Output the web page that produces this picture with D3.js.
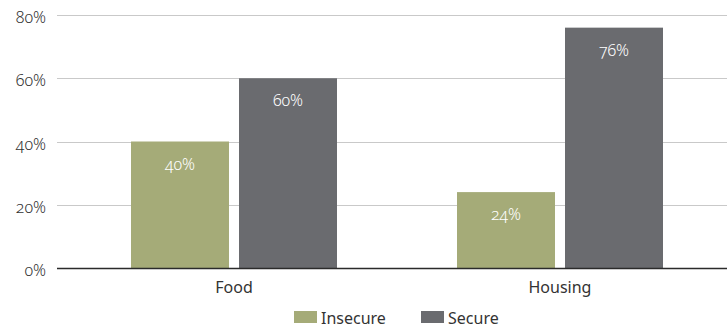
<!DOCTYPE html>
<html>
<head>
<meta charset="utf-8">
<script src="https://cdn.jsdelivr.net/npm/d3@7"></script>
<style>
  html, body { margin: 0; padding: 0; background: #fff; }
  svg text { font-family: "Noto Sans", "Open Sans", sans-serif; font-feature-settings: "onum" 1; font-variant-numeric: oldstyle-nums; }
</style>
</head>
<body>
<svg id="chart" width="727" height="329"></svg>
<script>
const categories = ["Food", "Housing"];
const series = ["Insecure", "Secure"];
const insecure = [0.40, 0.24];
const secure = [0.60, 0.76];
const yTicks = [0, 0.2, 0.4, 0.6, 0.8];
const colors = ["#a5ab78", "#6a6b6f"];

const values = [insecure, secure];
const svg = d3.select("#chart");

const y = d3.scaleLinear().domain([0, 0.8]).range([268, 15]);
const x0 = d3.scaleBand().domain(categories).range([71, 723]);
const x1 = d3.scaleBand().domain(series).range([60, 266]).paddingInner(10 / 108);
const fmt = d3.format(".0%");

// horizontal gridlines
svg.append("g").selectAll("line")
  .data(yTicks.filter(d => d > 0))
  .join("line")
  .attr("x1", 57).attr("x2", 727)
  .attr("y1", d => Math.round(y(d)) + 0.5).attr("y2", d => Math.round(y(d)) + 0.5)
  .attr("stroke", "#c9c9c9").attr("stroke-width", 1.2);

// y-axis labels
svg.append("g").selectAll("text")
  .data(yTicks)
  .join("text")
  .attr("x", 46).attr("y", d => y(d) + 8)
  .attr("text-anchor", "end")
  .attr("font-size", 16)
  .attr("font-weight", 300)
  .attr("fill", "#333")
  .text(fmt);

// bars
const groups = svg.append("g").selectAll("g")
  .data(categories)
  .join("g")
  .attr("transform", c => `translate(${x0(c)},0)`);

groups.selectAll("rect")
  .data((c, i) => series.map((s, j) => ({ s, j, v: values[j][i] })))
  .join("rect")
  .attr("x", d => x1(d.s))
  .attr("width", x1.bandwidth())
  .attr("y", d => y(d.v))
  .attr("height", d => y(0) - y(d.v))
  .attr("fill", d => colors[d.j]);

groups.selectAll("text.val")
  .data((c, i) => series.map((s, j) => ({ s, j, v: values[j][i] })))
  .join("text")
  .attr("class", "val")
  .attr("x", d => x1(d.s) + x1.bandwidth() / 2)
  .attr("y", d => y(d.v) + 28)
  .attr("text-anchor", "middle")
  .attr("font-size", 16)
  .attr("font-weight", 300)
  .attr("fill", "#ffffff")
  .text(d => fmt(d.v));

// baseline
svg.append("line")
  .attr("x1", 57).attr("x2", 727)
  .attr("y1", y(0) + 0.5).attr("y2", y(0) + 0.5)
  .attr("stroke", "#2b2b2b").attr("stroke-width", 1.3);

// category labels
svg.append("g").selectAll("text")
  .data(categories)
  .join("text")
  .attr("x", c => x0(c) + x0.bandwidth() / 2)
  .attr("y", 293)
  .attr("text-anchor", "middle")
  .attr("font-size", 16)
  .attr("fill", "#333")
  .text(c => c);

// legend
const legendX = [294, 421];
const legend = svg.append("g").selectAll("g")
  .data(series)
  .join("g")
  .attr("transform", (s, i) => `translate(${legendX[i]},311)`);
legend.append("rect")
  .attr("width", 23).attr("height", 12)
  .attr("fill", (s, i) => colors[i]);
legend.append("text")
  .attr("x", 27).attr("y", 12.5)
  .attr("font-size", 16)
  .attr("fill", "#333")
  .text(s => s);
</script>
</body>
</html>
